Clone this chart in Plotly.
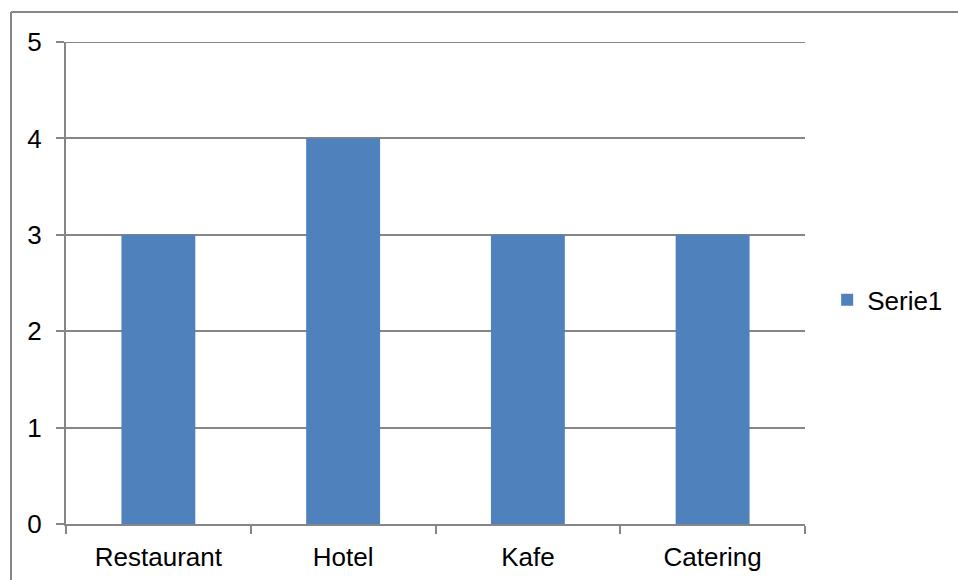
import plotly.graph_objects as go

categories = ["Restaurant", "Hotel", "Kafe", "Catering"]
serie1 = [3, 4, 3, 3]
y_ticks = [0, 1, 2, 3, 4, 5]

grid_color = "#868686"
bar_color = "#4F81BD"
font_family = "Liberation Sans, Arial, sans-serif"

fig = go.Figure()
fig.add_trace(go.Bar(
    x=categories,
    y=serie1,
    name="Serie1",
    marker=dict(color=bar_color, line=dict(width=0)),
    showlegend=True,
))

fig.update_layout(
    width=958,
    height=580,
    margin=dict(l=66, r=153, t=42, b=56, autoexpand=False),
    paper_bgcolor="white",
    plot_bgcolor="white",
    font=dict(family=font_family, size=26, color="black"),
    bargap=0.6,
    showlegend=True,
    legend=dict(
        x=1.03, y=0.465, xanchor="left", yanchor="middle",
        font=dict(size=26), bgcolor="rgba(0,0,0,0)",
        itemwidth=30, tracegroupgap=0,
    ),
    xaxis=dict(
        type="category",
        tickson="boundaries",
        ticks="outside",
        ticklen=8,
        tickwidth=2,
        tickcolor=grid_color,
        showline=True,
        linecolor=grid_color,
        linewidth=2,
        showgrid=False,
        zeroline=False,
        tickfont=dict(size=26),
        ticklabelstandoff=9,
    ),
    yaxis=dict(
        range=[y_ticks[0], y_ticks[-1]],
        tickvals=y_ticks,
        ticktext=[str(v) for v in y_ticks],
        ticks="outside",
        ticklen=8,
        tickwidth=2,
        tickcolor=grid_color,
        showline=True,
        linecolor=grid_color,
        linewidth=2,
        showgrid=True,
        gridcolor=grid_color,
        gridwidth=2,
        zeroline=False,
        tickfont=dict(size=26),
        ticklabelstandoff=9,
    ),
)

# Top gridline sits on the range edge, where plotly drops it; draw it explicitly
fig.add_shape(type="line", xref="paper", yref="y",
              x0=0, x1=1, y0=y_ticks[-1], y1=y_ticks[-1],
              line=dict(color=grid_color, width=2), layer="below")

# Outer chart frame (left and top edges)
fig.add_shape(type="line", xref="paper", yref="paper",
              x0=-55 / 739, x1=-55 / 739, y0=-60 / 482, y1=512 / 482,
              line=dict(color=grid_color, width=2))
fig.add_shape(type="line", xref="paper", yref="paper",
              x0=-55 / 739, x1=1000 / 739, y0=512 / 482, y1=512 / 482,
              line=dict(color=grid_color, width=2))

fig.write_html("out.html")
